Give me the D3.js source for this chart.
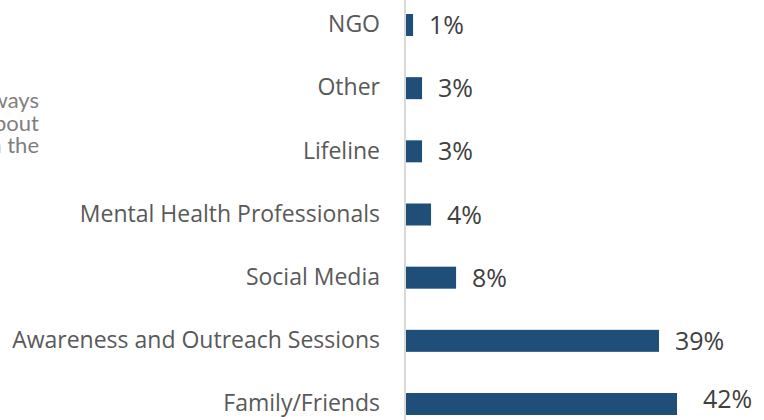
<!DOCTYPE html>
<html>
<head>
<meta charset="utf-8">
<script src="https://cdn.jsdelivr.net/npm/d3@7"></script>
<style>
  body { margin: 0; background: #fff; }
  svg { display: block; }
</style>
</head>
<body>
<svg id="svg" width="764" height="420"></svg>
<script>
// categories top to bottom, share of respondents (%)
var categories = ["NGO", "Other", "Lifeline", "Mental Health Professionals",
  "Social Media", "Awareness and Outreach Sessions", "Family/Friends"];
var shares = [1.1, 2.5, 2.5, 3.9, 7.8, 39.4, 42.2];

// fragment of a text box that is cut off at the left edge
var noteLines = ["ways", "about", "in the"];

var width = 764, height = 420;
const svg = d3.select("#svg");

var x = d3.scaleLinear().domain([0, 42.2]).range([406, 677]);
var y = d3.scalePoint().domain(categories).range([25, 404]);
var barH = 22;

// cut off note on the left
svg.append("g")
  .selectAll("text")
  .data(noteLines)
  .enter().append("text")
    .attr("x", 39)
    .attr("y", (d, i) => 108 + i * 22.5)
    .attr("text-anchor", "end")
    .style("font-family", "Lato, 'Open Sans', sans-serif")
    .style("font-size", "22px")
    .style("fill", "#7f7f7f")
    .text(d => d);

// bars
svg.append("g")
  .selectAll("rect")
  .data(categories)
  .enter().append("rect")
    .attr("x", x(0))
    .attr("y", d => y(d) - barH / 2)
    .attr("width", (d, i) => x(shares[i]) - x(0))
    .attr("height", barH)
    .style("fill", "#1f4e79");

// vertical axis line
svg.append("line")
  .attr("x1", 405).attr("x2", 405)
  .attr("y1", 0).attr("y2", height)
  .style("stroke", "#d9d9d9")
  .style("stroke-width", 2);

// category labels
svg.append("g")
  .selectAll("text")
  .data(categories)
  .enter().append("text")
    .attr("x", 380)
    .attr("y", d => y(d) - 1)
    .attr("dy", "0.36em")
    .attr("text-anchor", "end")
    .style("font-family", "'Open Sans', sans-serif")
    .style("font-size", "23px")
    .style("fill", "#595959")
    .text(d => d);

// value labels; the last one is nudged up to stay inside the frame
var last = categories.length - 1;
svg.append("g")
  .selectAll("text")
  .data(categories)
  .enter().append("text")
    .attr("x", (d, i) => x(shares[i]) + 16 + (i === last ? 10 : 0))
    .attr("y", (d, i) => y(d) + (i === last ? -5 : 0))
    .attr("dy", "0.36em")
    .style("font-family", "'Open Sans', sans-serif")
    .style("font-size", "25px")
    .style("fill", "#404040")
    .text((d, i) => Math.round(shares[i]) + "%");
</script>
</body>
</html>
